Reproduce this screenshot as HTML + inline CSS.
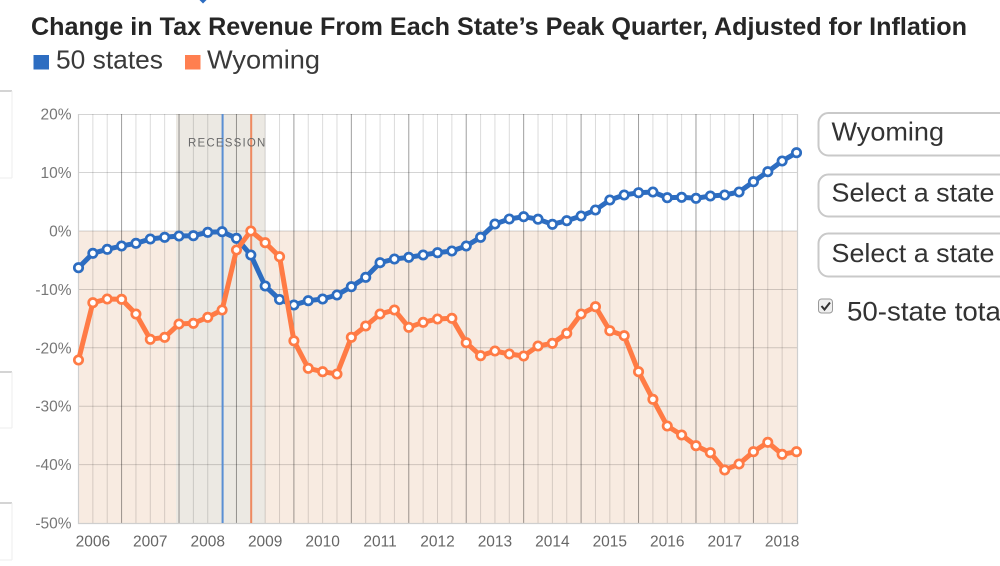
<!DOCTYPE html>
<html>
<head>
<meta charset="utf-8">
<style>
  html, body { margin: 0; padding: 0; background: #fff; }
  body { width: 1000px; height: 566px; overflow: hidden; position: relative; }
  svg { display: block; font-family: "Liberation Sans", Arial, sans-serif; }
</style>
</head>
<body>
<svg width="1000" height="566" viewBox="0 0 1000 566" xmlns="http://www.w3.org/2000/svg">
  <defs>
    <marker id="mb" viewBox="-7 -7 14 14" markerWidth="14" markerHeight="14" refX="0" refY="0" markerUnits="userSpaceOnUse">
      <circle r="4.2" fill="#fff" stroke="#2d6dc1" stroke-width="2.7"/>
    </marker>
    <marker id="mo" viewBox="-7 -7 14 14" markerWidth="14" markerHeight="14" refX="0" refY="0" markerUnits="userSpaceOnUse">
      <circle r="4.2" fill="#fff" stroke="#ff7b45" stroke-width="2.7"/>
    </marker>
  </defs>

  <!-- tiny top marker -->
  <path d="M199.5,0 L203,3.5 L206.5,0 Z" fill="#2d6dc1"/>

  <!-- left remnants -->
  <g fill="none">
    <path d="M0,91 H12" stroke="#d4d4d4" stroke-width="2"/>
    <path d="M12,91 V178 M0,178 H12" stroke="#eeeeee" stroke-width="1"/>
    <path d="M0,372 H12" stroke="#d4d4d4" stroke-width="2"/>
    <path d="M12,372 V428 M0,428 H12" stroke="#eeeeee" stroke-width="1"/>
    <path d="M0,503 H12" stroke="#d4d4d4" stroke-width="2"/>
    <path d="M12,503 V560 M0,560 H12" stroke="#eeeeee" stroke-width="1"/>
  </g>

  <!-- Title -->
  <text x="31" y="35" font-size="25" font-weight="bold" fill="#262626" textLength="936" lengthAdjust="spacingAndGlyphs">Change in Tax Revenue From Each State’s Peak Quarter, Adjusted for Inflation</text>

  <!-- Legend -->
  <rect x="33.5" y="55" width="15.5" height="14.5" fill="#2d6dc1"/>
  <text x="56" y="68.5" font-size="26" fill="#3a3a3a" textLength="107" lengthAdjust="spacingAndGlyphs">50 states</text>
  <rect x="185" y="55" width="15.5" height="14.5" fill="#ff7f50"/>
  <text x="207" y="68.5" font-size="26" fill="#3a3a3a" textLength="113" lengthAdjust="spacingAndGlyphs">Wyoming</text>

  <!-- Plot backgrounds -->
  <rect x="78" y="114" width="719.5" height="117" fill="#ffffff"/>
  <rect x="78" y="231" width="719.5" height="292" fill="#f8ebe1"/>
  <!-- Recession band -->
  <rect x="176" y="114" width="89.2" height="409" fill="#ece9e3"/>

  <!-- Horizontal grid -->
  <g stroke="#000" stroke-opacity="0.17" stroke-width="1">
    <path d="M78,114.5 H797.5 M78,172.5 H797.5 M78,231 H797.5 M78,289.5 H797.5 M78,347.8 H797.5 M78,406.2 H797.5 M78,464.6 H797.5"/>
  </g>

  <!-- Vertical grid light -->
  <g stroke="#000" stroke-opacity="0.14" stroke-width="1" fill="none">
    <path d="M92.86,114 V523 M107.22,114 V523 M135.94,114 V523 M150.3,114 V523 M164.66,114 V523 M193.38,114 V523 M207.74,114 V523 M222.1,114 V523 M250.82,114 V523 M265.18,114 V523 M279.54,114 V523 M308.26,114 V523 M322.62,114 V523 M336.98,114 V523 M365.7,114 V523 M380.06,114 V523 M394.42,114 V523 M423.14,114 V523 M437.5,114 V523 M451.86,114 V523 M480.58,114 V523 M494.94,114 V523 M509.3,114 V523 M538.02,114 V523 M552.38,114 V523 M566.74,114 V523 M595.46,114 V523 M609.82,114 V523 M624.18,114 V523 M652.9,114 V523 M667.26,114 V523 M681.62,114 V523 M710.34,114 V523 M724.7,114 V523 M739.06,114 V523 M767.78,114 V523 M782.14,114 V523"/>
  </g>
  <!-- Vertical grid dark -->
  <g stroke="#000" stroke-opacity="0.38" stroke-width="1" fill="none">
    <path d="M121.58,114 V523 M179.02,114 V523 M236.46,114 V523 M293.9,114 V523 M351.34,114 V523 M408.78,114 V523 M466.22,114 V523 M523.66,114 V523 M581.1,114 V523 M638.54,114 V523 M695.98,114 V523 M753.42,114 V523"/>
  </g>

  <!-- Plot border -->
  <path d="M78.5,114 V523.5 H797.5 V114" fill="none" stroke="#cfcfcf" stroke-width="1.2"/>

  <!-- Peak marker lines -->
  <path d="M222.6,114 V523" stroke="#5a8fd4" stroke-width="2"/>
  <path d="M251.2,114 V523" stroke="#ef8a60" stroke-width="2"/>

  <!-- RECESSION label -->
  <text x="188" y="146.5" font-size="11.5" fill="#6a6a6a" letter-spacing="1.2">RECESSION</text>

  <!-- Y axis labels -->
  <g font-size="15.5" fill="#777" text-anchor="end">
    <text x="71.5" y="119.5">20%</text>
    <text x="71.5" y="178">10%</text>
    <text x="71.5" y="236.5">0%</text>
    <text x="71.5" y="295">-10%</text>
    <text x="71.5" y="353.3">-20%</text>
    <text x="71.5" y="411.7">-30%</text>
    <text x="71.5" y="470.1">-40%</text>
    <text x="71.5" y="528.5">-50%</text>
  </g>

  <!-- X axis labels -->
  <g font-size="15.5" fill="#666" text-anchor="middle">
    <text x="92.86" y="546.5">2006</text>
    <text x="150.3" y="546.5">2007</text>
    <text x="207.74" y="546.5">2008</text>
    <text x="265.18" y="546.5">2009</text>
    <text x="322.62" y="546.5">2010</text>
    <text x="380.06" y="546.5">2011</text>
    <text x="437.5" y="546.5">2012</text>
    <text x="494.94" y="546.5">2013</text>
    <text x="552.38" y="546.5">2014</text>
    <text x="609.82" y="546.5">2015</text>
    <text x="667.26" y="546.5">2016</text>
    <text x="724.7" y="546.5">2017</text>
    <text x="782.14" y="546.5">2018</text>
  </g>

  <!-- Blue series -->
  <polyline fill="none" stroke="#2d6dc1" stroke-width="5" stroke-linejoin="round" stroke-linecap="round"
    marker-start="url(#mb)" marker-mid="url(#mb)" marker-end="url(#mb)"
    points="78.5,267.7 92.86,253.3 107.22,249.3 121.58,246 135.94,243.3 150.3,239 164.66,237.3 179.02,236 193.38,235.7 207.74,232.3 222.1,231.7 236.46,238.3 250.82,255 265.18,286 279.54,299.5 293.9,305 308.26,300.7 322.62,299 336.98,295 351.34,286.7 365.7,277.3 380.06,262.7 394.42,259 408.78,257.3 423.14,255 437.5,252.7 451.86,251 466.22,246 480.58,237.3 494.94,224 509.3,219 523.66,216.7 538.02,219.2 552.38,224.3 566.74,220.7 581.1,216 595.46,210 609.82,200 624.18,195 638.54,192.7 652.9,192 667.26,197.7 681.62,197.3 695.98,198.3 710.34,196 724.7,195 739.06,192 753.42,181.7 767.78,171.7 782.14,161 796.5,152.7"/>

  <!-- Orange series -->
  <polyline fill="none" stroke="#ff7b45" stroke-width="5" stroke-linejoin="round" stroke-linecap="round"
    marker-start="url(#mo)" marker-mid="url(#mo)" marker-end="url(#mo)"
    points="78.5,360 92.86,302.7 107.22,299 121.58,299.3 135.94,314 150.3,339.3 164.66,337.3 179.02,324 193.38,323.3 207.74,317.3 222.1,310 236.46,250 250.82,231 265.18,242.7 279.54,256.7 293.9,340.8 308.26,368.3 322.62,371.7 336.98,374 351.34,337.3 365.7,326 380.06,314 394.42,310 408.78,327.3 423.14,322.3 437.5,319 451.86,318.3 466.22,342.7 480.58,355.7 494.94,351 509.3,354 523.66,356 538.02,346 552.38,343.3 566.74,333.3 581.1,314 595.46,306.7 609.82,330.7 624.18,335.7 638.54,371.7 652.9,399.3 667.26,426 681.62,435 695.98,445.7 710.34,452.7 724.7,470 739.06,464 753.42,451.7 767.78,442.3 782.14,454.3 796.5,451.7"/>

  <!-- Right side controls -->
  <rect x="818.5" y="113" width="220" height="42.5" rx="10" ry="10" fill="#fff" stroke="#c9c9c9" stroke-width="2"/>
  <text x="831.5" y="140.5" font-size="26" fill="#333" textLength="112.5" lengthAdjust="spacingAndGlyphs">Wyoming</text>

  <rect x="818.5" y="174.5" width="220" height="42" rx="10" ry="10" fill="#fff" stroke="#c9c9c9" stroke-width="2"/>
  <text x="831.5" y="201.5" font-size="26" fill="#333" textLength="163" lengthAdjust="spacingAndGlyphs">Select a state</text>

  <rect x="818.5" y="233.5" width="220" height="43" rx="10" ry="10" fill="#fff" stroke="#c9c9c9" stroke-width="2"/>
  <text x="831.5" y="262" font-size="26" fill="#333" textLength="163" lengthAdjust="spacingAndGlyphs">Select a state</text>

  <rect x="818.5" y="299" width="14" height="14" rx="3" ry="3" fill="#efefef" stroke="#9a9a9a" stroke-width="1"/>
  <path d="M821.5,306 L824.5,309.5 L830,302.5" fill="none" stroke="#333" stroke-width="2"/>
  <text x="847" y="320.5" font-size="27" fill="#333" textLength="160" lengthAdjust="spacingAndGlyphs">50-state total</text>
</svg>
</body>
</html>
